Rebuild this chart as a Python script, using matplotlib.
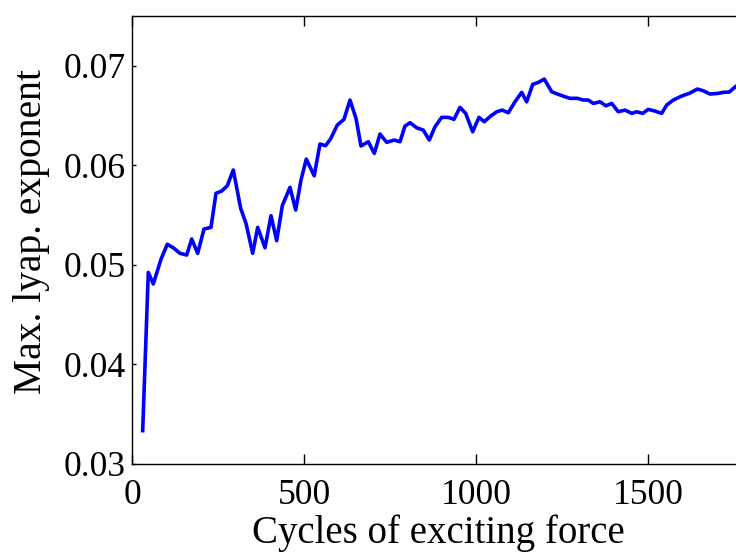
import matplotlib
matplotlib.use("Agg")
import matplotlib.pyplot as plt

cycles = [30.2, 46.5, 61.0, 83.4, 101.7, 119.2, 138.7, 158.1, 172.7, 190.1,
          208.4, 228.8, 243.3, 259.9, 276.2, 293.6, 315.1, 330.5, 350.0, 364.5,
          385.8, 403.2, 419.8, 436.0, 458.4, 475.0, 490.4, 505.8, 528.8, 545.6,
          561.6, 576.2, 595.9, 615.4, 632.8, 650.3, 664.8, 686.0, 703.5, 720.1,
          739.5, 761.6, 778.2, 792.7, 807.3, 826.7, 845.9, 863.4, 879.9, 899.4,
          918.6, 935.2, 952.6, 969.2, 989.5, 1007.8, 1023.3, 1041.9, 1059.3, 1075.6,
          1093.0, 1112.5, 1132.0, 1146.5, 1164.0, 1180.2, 1197.7, 1219.2, 1238.4, 1257.8,
          1272.4, 1293.6, 1311.0, 1325.6, 1340.1, 1359.6, 1377.0, 1393.6, 1412.8, 1432.3,
          1451.7, 1466.3, 1483.7, 1500.0, 1519.5, 1538.9, 1553.5, 1572.7, 1597.1, 1619.2,
          1642.4, 1659.9, 1679.4, 1703.5, 1718.0, 1735.5, 1753.0]
lyap = [0.03335, 0.04925, 0.04808, 0.05056, 0.05207, 0.05172, 0.05116, 0.05099, 0.05260, 0.05116,
        0.05360, 0.05377, 0.05719, 0.05742, 0.05795, 0.05953, 0.05568, 0.05417, 0.05116, 0.05377,
        0.05172, 0.05494, 0.05243, 0.05594, 0.05779, 0.05551, 0.05852, 0.06063, 0.05895, 0.06214,
        0.06197, 0.06264, 0.06404, 0.06462, 0.06656, 0.06472, 0.06194, 0.06237, 0.06120, 0.06314,
        0.06231, 0.06254, 0.06237, 0.06394, 0.06428, 0.06377, 0.06354, 0.06254, 0.06387, 0.06482,
        0.06482, 0.06462, 0.06582, 0.06522, 0.06337, 0.06482, 0.06438, 0.06495, 0.06538, 0.06555,
        0.06528, 0.06638, 0.06733, 0.06638, 0.06813, 0.06833, 0.06866, 0.06739, 0.06713, 0.06689,
        0.06673, 0.06673, 0.06656, 0.06656, 0.06622, 0.06638, 0.06598, 0.06622, 0.06538, 0.06555,
        0.06522, 0.06538, 0.06522, 0.06562, 0.06545, 0.06522, 0.06605, 0.06656, 0.06696, 0.06723,
        0.06766, 0.06749, 0.06716, 0.06723, 0.06733, 0.06736, 0.06789]

xticks = [0, 500, 1000, 1500]
yticks = [0.03, 0.04, 0.05, 0.06, 0.07]
ytick_labels = ["0.03", "0.04", "0.05", "0.06", "0.07"]

plt.rcParams['font.family'] = ['Liberation Serif', 'DejaVu Serif']

fig = plt.figure(figsize=(7.36, 5.53), dpi=100)
ax = fig.add_axes([132.3 / 736, 1 - 464 / 553, 612.3 / 736, 448 / 553])
ax.plot(cycles, lyap, color='#0000ff', linewidth=2.6)
ax.set_xlim(0, 1780)
ax.set_ylim(0.03, 0.075)
ax.set_xticks(xticks)
ax.set_yticks(yticks)
ax.set_yticklabels(ytick_labels)
ax.tick_params(axis='both', direction='in', labelsize=25.5, width=1, top=True, right=True)
ax.tick_params(axis='x', length=7, pad=10.5)
ax.tick_params(axis='y', length=3, pad=5)
for s in ax.spines.values():
    s.set_linewidth(1)
ax.set_xlabel("Cycles of exciting force", fontsize=28, labelpad=2)
ax.set_ylabel("Max. lyap. exponent", fontsize=28.5)
ax.yaxis.set_label_coords(-0.1344, 0.518)

fig.savefig("out.png", dpi=100)
